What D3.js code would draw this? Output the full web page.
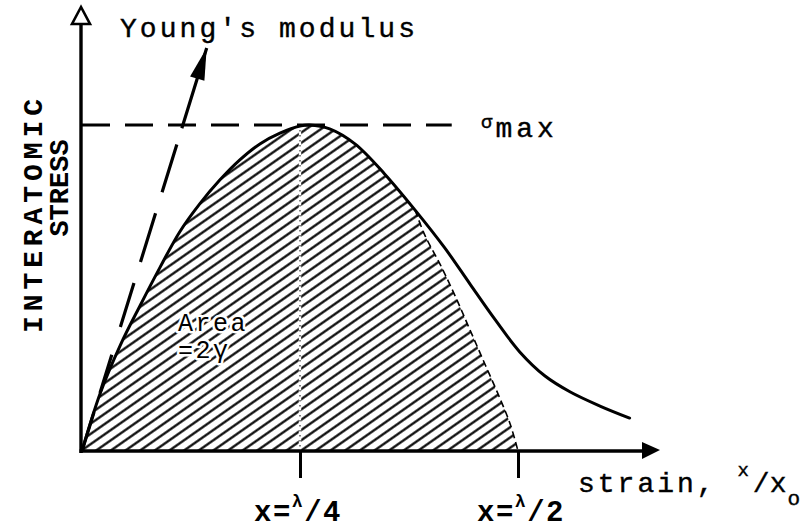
<!DOCTYPE html>
<html>
<head>
<meta charset="utf-8">
<script src="https://cdn.jsdelivr.net/npm/d3@7"></script>
<style>
  body { margin: 0; background: #fff; }
  svg { display: block; }
  text { font-family: "Liberation Mono", "DejaVu Sans Mono", monospace; fill: #000; }
</style>
</head>
<body>
<svg id="chart" width="812" height="530"></svg>
<script>
// Interatomic stress vs. strain (strain in units of λ, stress as a fraction of σmax)
const curveStrain = [0, 0.021, 0.044, 0.067, 0.089, 0.112, 0.135, 0.158, 0.181, 0.204, 0.227, 0.250, 0.261,
                     0.284, 0.313, 0.347, 0.382, 0.416, 0.445, 0.474, 0.502, 0.531, 0.560, 0.594, 0.628];
const curveStress = [0, 0.178, 0.325, 0.448, 0.561, 0.672, 0.758, 0.831, 0.893, 0.942, 0.975, 0.997, 1.000,
                     0.988, 0.942, 0.850, 0.739, 0.623, 0.512, 0.402, 0.304, 0.230, 0.181, 0.138, 0.101];

// Sinusoidal approximation: right-hand edge of the shaded work area (after it leaves the curve)
const sineStrain = [0.382, 0.393, 0.411, 0.428, 0.445, 0.462, 0.479, 0.491, 0.500];
const sineStress = [0.739, 0.663, 0.571, 0.475, 0.371, 0.267, 0.163, 0.083, 0.000];

// Initial slope (Young's modulus) line: from the origin to its arrow tip
const youngStrain = [0, 0.143];
const youngStress = [0, 1.236];

// Marked strains on the horizontal axis
const tickStrain = [0.25, 0.5];
const tickDenominators = ["4", "2"];

// Extent of the σmax guide line
const sigmaMaxStress = 1;
const sigmaLineEnd = 0.424;

const svg = d3.select("#chart");
const x = d3.scaleLinear().domain([0, 0.5]).range([82, 518]);
const y = d3.scaleLinear().domain([0, 1]).range([451, 125]);

const defs = svg.append("defs");
const pat = defs.append("pattern")
  .attr("id", "hatch")
  .attr("patternUnits", "userSpaceOnUse")
  .attr("width", 12).attr("height", 8.4)
  .attr("patternTransform", "rotate(-35)");
pat.append("line")
  .attr("x1", -1).attr("x2", 13).attr("y1", 4.2).attr("y2", 4.2)
  .attr("stroke", "#000").attr("stroke-width", 2.2);

const curvePts = curveStrain.map((s, i) => [s, curveStress[i]]);
const sinePts = sineStrain.map((s, i) => [s, sineStress[i]]);

// shaded region: the curve up to where the sine edge splits off, then the sine edge down to the axis
const areaPts = curvePts.filter(p => p[0] < sineStrain[0]).concat(sinePts);
const line = d3.line().x(d => x(d[0])).y(d => y(d[1])).curve(d3.curveCatmullRom.alpha(0.5));

svg.append("path")
  .attr("d", line(areaPts) + "Z")
  .attr("fill", "url(#hatch)");

// ragged ends of the hatch lines along the sine edge
svg.append("path")
  .attr("d", line(sinePts))
  .attr("fill", "none").attr("stroke", "#000")
  .attr("stroke-width", 1.6).attr("stroke-dasharray", "7,4");

// faint vertical guide at λ/4
svg.append("line")
  .attr("x1", x(0.25)).attr("x2", x(0.25))
  .attr("y1", y(sigmaMaxStress)).attr("y2", y(0))
  .attr("stroke", "#fff").attr("stroke-width", 2.4);
svg.append("line")
  .attr("x1", x(0.25)).attr("x2", x(0.25))
  .attr("y1", y(sigmaMaxStress)).attr("y2", y(0))
  .attr("stroke", "#000").attr("stroke-width", 1).attr("stroke-dasharray", "1.5,3.5");

// σmax guide line
svg.append("line")
  .attr("x1", x(0)).attr("x2", x(sigmaLineEnd))
  .attr("y1", y(sigmaMaxStress)).attr("y2", y(sigmaMaxStress))
  .attr("stroke", "#000").attr("stroke-width", 3).attr("stroke-dasharray", "28,15");

// stress-strain curve
svg.append("path")
  .attr("d", line(curvePts))
  .attr("fill", "none").attr("stroke", "#000")
  .attr("stroke-width", 3).attr("stroke-linecap", "round");

// Young's modulus arrow
const yx0 = x(youngStrain[0]), yy0 = y(youngStress[0]);
const yx1 = x(youngStrain[1]), yy1 = y(youngStress[1]);
svg.append("line")
  .attr("x1", yx1).attr("y1", yy1).attr("x2", yx0).attr("y2", yy0)
  .attr("stroke", "#000").attr("stroke-width", 3.2)
  .attr("stroke-dasharray", "84 17 50 22 51 22 46 29 40 20 80");
{
  const dx = yx0 - yx1, dy = yy0 - yy1, L = Math.hypot(dx, dy);
  const ux = dx / L, uy = dy / L, len = 32, hw = 7.5;
  const bx = yx1 + ux * len, by = yy1 + uy * len;
  svg.append("polygon")
    .attr("points", [[yx1, yy1], [bx - uy * hw, by + ux * hw], [bx + uy * hw, by - ux * hw]].map(p => p.join(",")).join(" "))
    .attr("fill", "#000");
}

// axes
const ox = x(0) - 1, oy = y(0);
svg.append("line")
  .attr("x1", ox).attr("x2", ox).attr("y1", oy + 2).attr("y2", 20)
  .attr("stroke", "#000").attr("stroke-width", 3.4);
svg.append("polygon")
  .attr("points", `${ox},7 ${ox - 9},24 ${ox + 9},24`)
  .attr("fill", "#fff").attr("stroke", "#000").attr("stroke-width", 2.6).attr("stroke-linejoin", "miter");
svg.append("line")
  .attr("x1", ox - 1.5).attr("x2", 645).attr("y1", oy).attr("y2", oy)
  .attr("stroke", "#000").attr("stroke-width", 3.4);
svg.append("polygon")
  .attr("points", `660,${oy - 1} 642,${oy - 9} 642,${oy + 8}`)
  .attr("fill", "#000");

const ticks = svg.append("g")
  .attr("transform", `translate(0,${oy})`)
  .call(d3.axisBottom(x).tickValues(tickStrain).tickSize(27).tickFormat(""));
ticks.select(".domain").remove();
ticks.selectAll(".tick line").attr("stroke", "#000").attr("stroke-width", 3);

// tick labels x=λ/4, x=λ/2
tickStrain.forEach((s, i) => {
  const t = svg.append("text")
    .attr("x", x(s) + (i === 0 ? -2 : 3)).attr("y", 521)
    .attr("text-anchor", "middle")
    .attr("font-weight", "bold").attr("font-size", 29)
    .attr("letter-spacing", 1.5);
  t.append("tspan").text("x=");
  t.append("tspan").attr("font-size", 18).attr("dy", -14).text("λ");
  t.append("tspan").attr("dy", 14).text("/" + tickDenominators[i]);
});

// labels
svg.append("text")
  .attr("x", 120).attr("y", 37)
  .attr("font-size", 28).attr("textLength", 295).attr("lengthAdjust", "spacing")
  .attr("stroke", "#000").attr("stroke-width", 0.4)
  .text("Young's modulus");

const sig = svg.append("text").attr("x", 481).attr("y", 137)
  .attr("font-size", 28).attr("stroke", "#000").attr("stroke-width", 0.4);
sig.append("tspan").attr("font-size", 19).attr("dy", -9).text("σ");
sig.append("tspan").attr("dy", 9).attr("dx", 3).attr("letter-spacing", 4).text("max");

const strain = svg.append("text").attr("x", 578).attr("y", 492)
  .attr("font-size", 28).attr("stroke", "#000").attr("stroke-width", 0.4);
strain.append("tspan").attr("letter-spacing", 3).text("strain, ");
strain.append("tspan").attr("font-size", 19).attr("dy", -16).attr("dx", 1).text("x");
strain.append("tspan").attr("dy", 16).attr("dx", 4).text("/x");
strain.append("tspan").attr("font-size", 21).attr("dy", 13).attr("dx", 1).text("o");

const area = svg.append("g").attr("font-size", 25);
area.append("text").attr("x", 178).attr("y", 331)
  .attr("stroke", "#fff").attr("stroke-width", 5).attr("stroke-linejoin", "round")
  .attr("paint-order", "stroke").attr("letter-spacing", 2.5).text("Area");
area.append("text").attr("x", 178).attr("y", 358)
  .attr("stroke", "#fff").attr("stroke-width", 5).attr("stroke-linejoin", "round")
  .attr("paint-order", "stroke").attr("letter-spacing", 2.5).text("=2γ");

// vertical axis title
svg.append("text")
  .attr("transform", "translate(42,216) rotate(-90)")
  .attr("text-anchor", "middle").attr("font-weight", "bold").attr("font-size", 28)
  .attr("textLength", 234).attr("lengthAdjust", "spacing")
  .text("INTERATOMIC");
svg.append("text")
  .attr("transform", "translate(68,188) rotate(-90)")
  .attr("text-anchor", "middle").attr("font-weight", "bold").attr("font-size", 27)
  .text("STRESS");
</script>
</body>
</html>
